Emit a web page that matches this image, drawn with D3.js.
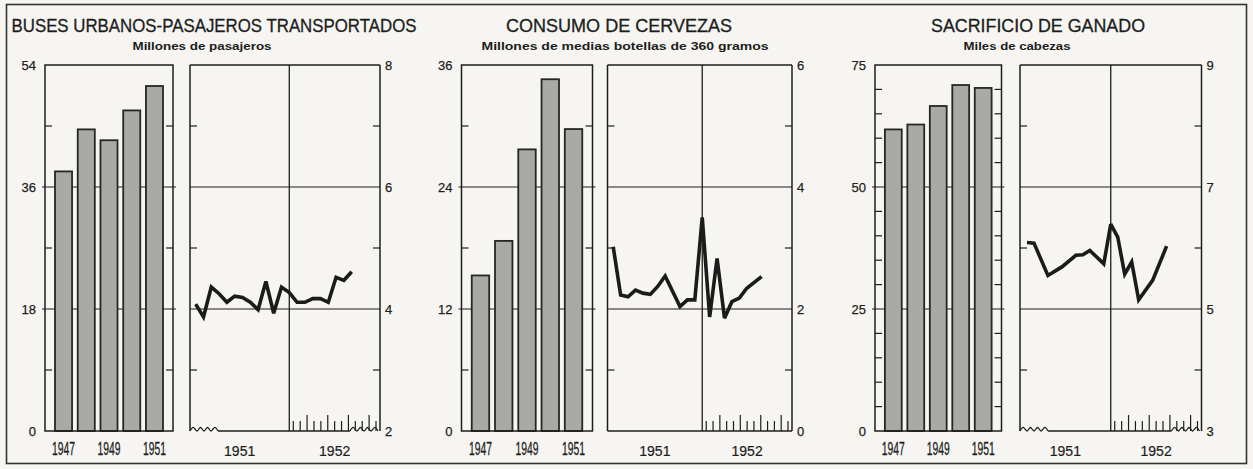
<!DOCTYPE html>
<html>
<head>
<meta charset="utf-8">
<script src="https://cdn.jsdelivr.net/npm/d3@7"></script>
<style>
  body { margin: 0; background: #f6f5f1; }
  svg { display: block; }
  text { font-family: "Liberation Sans", Arial, sans-serif; fill: #1d1d1d; }
</style>
</head>
<body>
<script>
// yearly bars (left) and monthly line (right) for each panel
const years = ['1947', '1948', '1949', '1950', '1951'];
const yearLabels = ['1947', '1949', '1951'];
const periodLabels = ['1951', '1952'];

const busBars = [38.3, 44.5, 42.9, 47.3, 50.9];
const beerBars = [15.3, 18.7, 27.7, 34.6, 29.7];
const cattleBars = [61.8, 62.8, 66.6, 70.9, 70.3];

// month index: 0 = January 1952
const busMonths = [-12, -11, -10, -9, -8, -7, -6, -5, -4, -3, -2, -1, 0, 1, 2, 3, 4, 5, 6, 7, 8];
const busLine = [4.08, 3.87, 4.36, 4.25, 4.11, 4.21, 4.19, 4.11, 3.99, 4.45, 3.93, 4.36, 4.27, 4.11, 4.11, 4.17, 4.17, 4.11, 4.52, 4.47, 4.61];
const beerMonths = [-12, -11, -10, -9, -8, -7, -6, -5, -3, -2, -1, 0, 1, 2, 3, 4, 5, 6, 8];
const beerLine = [3.02, 2.23, 2.20, 2.31, 2.26, 2.24, 2.37, 2.54, 2.04, 2.15, 2.15, 3.50, 1.87, 2.83, 1.85, 2.12, 2.18, 2.34, 2.53];
const cattleMonths = [-12, -11, -9, -7, -5, -4, -3, -1, 0, 1, 2, 3, 4, 6, 8];
const cattleLine = [6.09, 6.08, 5.55, 5.69, 5.88, 5.89, 5.96, 5.74, 6.39, 6.18, 5.57, 5.77, 5.15, 5.47, 6.03];

const busBarTicks = [0, 18, 36, 54];
const busLineTicks = [2, 4, 6, 8];
const beerBarTicks = [0, 12, 24, 36];
const beerLineTicks = [0, 2, 4, 6];
const cattleBarTicks = [0, 25, 50, 75];
const cattleLineTicks = [3, 5, 7, 9];

const panels = [
  {
    title: 'BUSES URBANOS-PASAJEROS TRANSPORTADOS', subtitle: 'Millones de pasajeros',
    bars: busBars, barTicks: busBarTicks, barStep: 9,
    months: busMonths, line: busLine, lineTicks: busLineTicks, broken: true,
    layout: { bx0: 45, bx1: 173, lx0: 190, lx1: 380, xDomain: [-12.73, 11.63], tx: 214, tw: 405, sx: 202, sw: 139 }
  },
  {
    title: 'CONSUMO DE CERVEZAS', subtitle: 'Millones de medias botellas de 360 gramos',
    bars: beerBars, barTicks: beerBarTicks, barStep: 6,
    months: beerMonths, line: beerLine, lineTicks: beerLineTicks, broken: false,
    layout: { bx0: 461.5, bx1: 592.5, lx0: 607.5, lx1: 792, xDomain: [-12.77, 12.1], tx: 619, tw: 226, sx: 625, sw: 287 }
  },
  {
    title: 'SACRIFICIO DE GANADO', subtitle: 'Miles de cabezas',
    bars: cattleBars, barTicks: cattleBarTicks, barStep: 5,
    months: cattleMonths, line: cattleLine, lineTicks: cattleLineTicks, broken: true,
    layout: { bx0: 875, bx1: 1001.5, lx0: 1020, lx1: 1201.5, xDomain: [-13, 13], tx: 1038, tw: 214, sx: 1017, sw: 107 }
  }
];

const width = 1253, height = 469;
const plotTop = 65, plotBottom = 431;
const ink = '#1e1e1e';

const svg = d3.select('body').append('svg')
  .attr('width', width)
  .attr('height', height);

// outer frame
svg.append('rect')
  .attr('x', 6.5).attr('y', 4.5)
  .attr('width', 1240).attr('height', 459)
  .attr('fill', 'none').attr('stroke', '#333').attr('stroke-width', 1.6);

function hline(g, x1, x2, y, w) {
  g.append('line').attr('x1', x1).attr('x2', x2).attr('y1', y).attr('y2', y)
    .attr('stroke', ink).attr('stroke-width', w || 1.3);
}
function vline(g, x, y1, y2, w) {
  g.append('line').attr('x1', x).attr('x2', x).attr('y1', y1).attr('y2', y2)
    .attr('stroke', ink).attr('stroke-width', w || 1.3);
}

// little wave used where the line chart's baseline is cut
function squiggle(x0, x1, y) {
  const pts = [];
  let i = 0;
  for (let x = x0; x <= x1 + 0.01; x += 3.5, i++) pts.push([x, y - (i % 2 ? 3.5 : 0)]);
  return d3.line().curve(d3.curveNatural)(pts);
}

panels.forEach(p => {
  const L = p.layout;
  const g = svg.append('g');

  // titles
  g.append('text')
    .attr('x', L.tx).attr('y', 32)
    .attr('text-anchor', 'middle')
    .attr('font-size', 18)
    .attr('textLength', L.tw).attr('lengthAdjust', 'spacingAndGlyphs')
    .attr('stroke', ink).attr('stroke-width', 0.3)
    .text(p.title);
  g.append('text')
    .attr('x', L.sx).attr('y', 50)
    .attr('text-anchor', 'middle')
    .attr('font-size', 11).attr('font-weight', 'bold')
    .attr('textLength', L.sw).attr('lengthAdjust', 'spacingAndGlyphs')
    .text(p.subtitle);

  // ---- bar chart ----
  const yb = d3.scaleLinear().domain(d3.extent(p.barTicks)).range([plotBottom, plotTop]);
  const xb = d3.scaleBand().domain(years).range([L.bx0, L.bx1]).paddingInner(0.25).paddingOuter(0.44);

  p.barTicks.slice(1, -1).forEach(t => hline(g, L.bx0 - 3, L.bx1 + 3, yb(t), 1.2));
  d3.range(p.barStep, yb.domain()[1], p.barStep)
    .filter(t => !p.barTicks.includes(t))
    .forEach(t => {
      hline(g, L.bx0, L.bx0 + 7, yb(t), 1.2);
      hline(g, L.bx1 - 7, L.bx1, yb(t), 1.2);
    });

  g.selectAll('rect.bar')
    .data(p.bars)
    .enter()
    .append('rect')
    .attr('class', 'bar')
    .attr('x', (d, i) => xb(years[i]))
    .attr('y', d => yb(d))
    .attr('width', xb.bandwidth())
    .attr('height', d => plotBottom - yb(d))
    .attr('fill', '#a9a9a6')
    .attr('stroke', '#262626')
    .attr('stroke-width', 1.8);

  g.append('rect')
    .attr('x', L.bx0).attr('y', plotTop)
    .attr('width', L.bx1 - L.bx0).attr('height', plotBottom - plotTop)
    .attr('fill', 'none').attr('stroke', ink).attr('stroke-width', 1.5);

  const leftAxis = g.append('g')
    .attr('transform', `translate(${L.bx0},0)`)
    .call(d3.axisLeft(yb).tickValues(p.barTicks).tickSize(0).tickPadding(9).tickFormat(d3.format('d')));
  leftAxis.select('.domain').remove();
  leftAxis.selectAll('text')
    .style('font-size', '13px').style('fill', ink)
    .attr('stroke', ink).attr('stroke-width', 0.25)
    .style('font-family', '"Liberation Sans", Arial, sans-serif');

  const yearAxis = g.append('g')
    .attr('transform', `translate(0,${plotBottom})`)
    .call(d3.axisBottom(xb).tickValues(yearLabels).tickSize(0).tickPadding(11));
  yearAxis.select('.domain').remove();
  yearAxis.selectAll('text')
    .style('font-size', '18px').style('fill', ink)
    .attr('stroke', ink).attr('stroke-width', 0.3)
    .attr('textLength', 23).attr('lengthAdjust', 'spacingAndGlyphs')
    .style('font-family', '"Liberation Sans Narrow", "Liberation Sans", Arial, sans-serif');

  // ---- monthly line chart ----
  const xl = d3.scaleLinear().domain(L.xDomain).range([L.lx0, L.lx1]);
  const yl = d3.scaleLinear().domain(d3.extent(p.lineTicks)).range([plotBottom, plotTop]);

  p.lineTicks.slice(1, -1).forEach(t => hline(g, L.lx0, L.lx1, yl(t), 1.2));
  d3.range(yl.domain()[0] + 1, yl.domain()[1], 1)
    .filter(t => !p.lineTicks.includes(t))
    .forEach(t => {
      hline(g, L.lx0, L.lx0 + 7, yl(t), 1.2);
      hline(g, L.lx1 - 7, L.lx1, yl(t), 1.2);
    });

  vline(g, xl(0), plotTop, plotBottom, 1.3);
  hline(g, L.lx0, L.lx1, plotTop, 1.5);
  vline(g, L.lx0, plotTop, plotBottom, 1.5);
  vline(g, L.lx1, plotTop, plotBottom, 1.5);

  if (p.broken) {
    g.append('path').attr('d', squiggle(L.lx0, L.lx0 + 28, plotBottom))
      .attr('fill', 'none').attr('stroke', ink).attr('stroke-width', 1.3);
    hline(g, L.lx0 + 28, L.lx1 - 30, plotBottom, 1.5);
    g.append('path').attr('d', squiggle(L.lx1 - 30, L.lx1, plotBottom))
      .attr('fill', 'none').attr('stroke', ink).attr('stroke-width', 1.3);
  } else {
    hline(g, L.lx0, L.lx1, plotBottom, 1.5);
  }

  // month marks along 1952
  const xt = d3.scaleLinear().domain([0, 12]).range([xl(0) + 4, L.lx1 - 4]);
  d3.range(13).forEach(i => vline(g, xt(i), plotBottom, plotBottom - (i % 3 === 2 ? 16 : 10), 1.2));

  g.append('path')
    .datum(p.months.map((m, i) => [m, p.line[i]]))
    .attr('d', d3.line().x(d => xl(d[0])).y(d => yl(d[1])))
    .attr('fill', 'none')
    .attr('stroke', '#1b1b1b')
    .attr('stroke-width', 3.6)
    .attr('stroke-linejoin', 'miter')
    .attr('stroke-miterlimit', 3);

  const rightAxis = g.append('g')
    .attr('transform', `translate(${L.lx1},0)`)
    .call(d3.axisRight(yl).tickValues(p.lineTicks).tickSize(0).tickPadding(5).tickFormat(d3.format('d')));
  rightAxis.select('.domain').remove();
  rightAxis.selectAll('text')
    .style('font-size', '13px').style('fill', ink)
    .attr('stroke', ink).attr('stroke-width', 0.25)
    .style('font-family', '"Liberation Sans", Arial, sans-serif');

  [L.xDomain[0] / 2, L.xDomain[1] / 2].forEach((m, i) => {
    g.append('text')
      .attr('x', xl(m)).attr('y', 456)
      .attr('text-anchor', 'middle')
      .attr('font-size', 14)
      .attr('stroke', ink).attr('stroke-width', 0.2)
      .text(periodLabels[i]);
  });
});
</script>
</body>
</html>
